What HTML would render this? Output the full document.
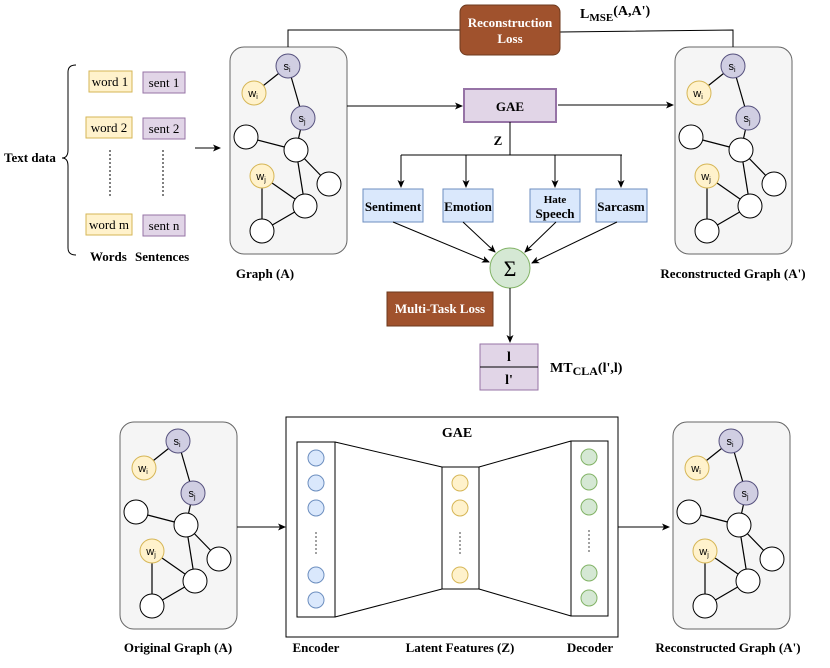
<!DOCTYPE html><html><head><meta charset="utf-8"><style>body{margin:0;background:#fff}svg{display:block;font-family:"Liberation Serif",serif}</style></head><body>
<svg width="830" height="668" viewBox="0 0 830 668" xmlns="http://www.w3.org/2000/svg" font-family="Liberation Serif, serif">
<defs>
<marker id="a" markerWidth="8" markerHeight="8" refX="7" refY="4" orient="auto" markerUnits="userSpaceOnUse"><path d="M0,0.5 L8,4 L0,7.5 L2,4z" fill="#000"/></marker>
<g id="g">
<rect x="0" y="0" width="117" height="207" rx="14" fill="#f5f5f5" stroke="#666"/>
<g stroke="#000" stroke-width="1.2">
<line x1="58" y1="19" x2="24" y2="46"/><line x1="58" y1="19" x2="73" y2="71"/><line x1="73" y1="71" x2="66" y2="103"/><line x1="16" y1="90" x2="66" y2="103"/><line x1="66" y1="103" x2="99" y2="137"/><line x1="66" y1="103" x2="75" y2="159"/><line x1="32" y1="129" x2="75" y2="159"/><line x1="32" y1="129" x2="32" y2="184"/><line x1="32" y1="184" x2="75" y2="159"/>
</g>
<circle cx="58" cy="19" r="12" fill="#d0cee2" stroke="#56517e"/>
<circle cx="24" cy="46" r="12" fill="#fff2cc" stroke="#d6b656"/>
<circle cx="73" cy="71" r="12" fill="#d0cee2" stroke="#56517e"/>
<circle cx="16" cy="90" r="12" fill="#fff" stroke="#000"/>
<circle cx="66" cy="103" r="12" fill="#fff" stroke="#000"/>
<circle cx="32" cy="129" r="12" fill="#fff2cc" stroke="#d6b656"/>
<circle cx="99" cy="137" r="12" fill="#fff" stroke="#000"/>
<circle cx="75" cy="159" r="12" fill="#fff" stroke="#000"/>
<circle cx="32" cy="184" r="12" fill="#fff" stroke="#000"/>
<g font-family="Liberation Sans,sans-serif" font-size="11" text-anchor="middle">
<text x="57" y="23">s<tspan font-size="7" dy="2">i</tspan></text>
<text x="23" y="50">w<tspan font-size="7" dy="2">i</tspan></text>
<text x="72" y="75">s<tspan font-size="7" dy="2">j</tspan></text>
<text x="31" y="133">w<tspan font-size="7" dy="2">j</tspan></text>
</g>
</g>
</defs>
<text x="4" y="162" font-size="13" font-weight="bold">Text data</text>
<path d="M76,65 Q68,65 68,72 L68,150 Q68,158 62,158 Q68,158 68,166 L68,248 Q68,255 76,255" fill="none" stroke="#000"/>
<g font-size="13" text-anchor="middle">
<rect x="89" y="71" width="43" height="21" fill="#fff2cc" stroke="#d6b656"/><text x="110" y="86">word 1</text>
<rect x="86" y="117" width="46" height="21" fill="#fff2cc" stroke="#d6b656"/><text x="109" y="132">word 2</text>
<rect x="86" y="214" width="46" height="21" fill="#fff2cc" stroke="#d6b656"/><text x="109" y="229">word m</text>
<rect x="143" y="72" width="42" height="21" fill="#e1d5e7" stroke="#9673a6"/><text x="164" y="87">sent 1</text>
<rect x="143" y="118" width="42" height="21" fill="#e1d5e7" stroke="#9673a6"/><text x="164" y="133">sent 2</text>
<rect x="143" y="215" width="42" height="21" fill="#e1d5e7" stroke="#9673a6"/><text x="164" y="230">sent n</text>
</g>
<line x1="110" y1="150" x2="110" y2="198" stroke="#000" stroke-dasharray="2,2"/>
<line x1="163" y1="150" x2="163" y2="198" stroke="#000" stroke-dasharray="2,2"/>
<text x="90" y="261" font-size="13" font-weight="bold">Words</text>
<text x="135" y="261" font-size="13" font-weight="bold">Sentences</text>
<line x1="195" y1="148" x2="220" y2="148" stroke="#000" marker-end="url(#a)"/>
<use href="#g" x="230" y="47"/>
<use href="#g" x="675" y="47"/>
<text x="265" y="278" font-size="13" font-weight="bold" text-anchor="middle">Graph (A)</text>
<text x="733" y="278" font-size="13" font-weight="bold" text-anchor="middle">Reconstructed Graph (A')</text>
<polyline points="288,47 288,30 460,30" fill="none" stroke="#000"/>
<polyline points="560,32 733,30 733,47" fill="none" stroke="#000"/>
<rect x="460" y="5" width="100" height="50" rx="7" fill="#a0522d" stroke="#6d3a1e"/>
<text x="510" y="27" font-size="13" font-weight="bold" fill="#fff" text-anchor="middle">Reconstruction</text>
<text x="510" y="43" font-size="13" font-weight="bold" fill="#fff" text-anchor="middle">Loss</text>
<text x="580" y="18" font-size="14" font-weight="bold">L<tspan font-size="11" dy="3">MSE</tspan><tspan dy="-6">(A,A')</tspan></text>
<line x1="347" y1="106" x2="462" y2="106" stroke="#000" marker-end="url(#a)"/>
<line x1="558" y1="105" x2="673" y2="105" stroke="#000" marker-end="url(#a)"/>
<rect x="464" y="89" width="92" height="33" fill="#e1d5e7" stroke="#9673a6" stroke-width="2"/>
<text x="510" y="111" font-size="13" font-weight="bold" text-anchor="middle">GAE</text>
<line x1="510" y1="122" x2="510" y2="155" stroke="#000"/>
<text x="498" y="145" font-size="13" font-weight="bold" text-anchor="middle">Z</text>
<line x1="401" y1="155" x2="622" y2="155" stroke="#000"/>
<g stroke="#000" marker-end="url(#a)"><line x1="401" y1="155" x2="401" y2="187"/><line x1="466" y1="155" x2="466" y2="187"/><line x1="555" y1="155" x2="555" y2="187"/><line x1="621" y1="155" x2="621" y2="187"/></g>
<g fill="#dae8fc" stroke="#6c8ebf"><rect x="363" y="189" width="60" height="33"/><rect x="443" y="189" width="50" height="33"/><rect x="530" y="189" width="50" height="33"/><rect x="596" y="189" width="51" height="33"/></g>
<g font-size="13" font-weight="bold" text-anchor="middle"><text x="393" y="211">Sentiment</text><text x="468" y="211">Emotion</text><text x="555" y="203" font-size="11">Hate</text><text x="555" y="218">Speech</text><text x="621" y="211">Sarcasm</text></g>
<g stroke="#000" marker-end="url(#a)"><line x1="393" y1="222" x2="489" y2="262"/><line x1="463" y1="222" x2="495" y2="252"/><line x1="556" y1="222" x2="525" y2="252"/><line x1="617" y1="222" x2="532" y2="263"/></g>
<circle cx="510" cy="268" r="20" fill="#d5e8d4" stroke="#82b366"/>
<text x="510" y="276" font-size="22" text-anchor="middle">Σ</text>
<rect x="387" y="292" width="106" height="34" fill="#a0522d" stroke="#6d3a1e"/>
<text x="440" y="313" font-size="13" font-weight="bold" fill="#fff" text-anchor="middle">Multi-Task Loss</text>
<line x1="510" y1="288" x2="510" y2="342" stroke="#000" marker-end="url(#a)"/>
<rect x="480" y="344" width="58" height="46" fill="#e1d5e7" stroke="#9673a6"/>
<line x1="480" y1="367" x2="538" y2="367" stroke="#000"/>
<text x="509" y="361" font-size="14" font-weight="bold" text-anchor="middle">l</text>
<text x="509" y="384" font-size="14" font-weight="bold" text-anchor="middle">l'</text>
<text x="550" y="372" font-size="14" font-weight="bold">MT<tspan font-size="12" dy="3">CLA</tspan><tspan dy="-3">(l',l)</tspan></text>
<use href="#g" x="120" y="422"/>
<use href="#g" x="673" y="422"/>
<line x1="237" y1="527" x2="285" y2="527" stroke="#000" marker-end="url(#a)"/>
<line x1="618" y1="527" x2="669" y2="527" stroke="#000" marker-end="url(#a)"/>
<rect x="286" y="417" width="332" height="220" fill="#fff" stroke="#000"/>
<text x="457" y="437" font-size="14" font-weight="bold" text-anchor="middle">GAE</text>
<g fill="none" stroke="#000"><rect x="297" y="442" width="38" height="175"/><rect x="442" y="467" width="37" height="122"/><rect x="571" y="441" width="37" height="175"/>
<line x1="335" y1="442" x2="442" y2="467"/><line x1="335" y1="617" x2="442" y2="589"/><line x1="479" y1="467" x2="571" y2="441"/><line x1="479" y1="589" x2="571" y2="616"/></g>
<g fill="#dae8fc" stroke="#6c8ebf"><circle cx="316" cy="458" r="8"/><circle cx="316" cy="483" r="8"/><circle cx="316" cy="508" r="8"/><circle cx="316" cy="575" r="8"/><circle cx="316" cy="600" r="8"/></g>
<g fill="#fff2cc" stroke="#d6b656"><circle cx="460" cy="483" r="8"/><circle cx="460" cy="508" r="8"/><circle cx="460" cy="575" r="8"/></g>
<g fill="#d5e8d4" stroke="#82b366"><circle cx="589" cy="457" r="8"/><circle cx="589" cy="482" r="8"/><circle cx="589" cy="507" r="8"/><circle cx="589" cy="573" r="8"/><circle cx="589" cy="598" r="8"/></g>
<g stroke="#444" stroke-dasharray="2,2"><line x1="316" y1="532" x2="316" y2="555"/><line x1="460" y1="532" x2="460" y2="555"/><line x1="589" y1="530" x2="589" y2="553"/></g>
<g font-size="13" font-weight="bold" text-anchor="middle"><text x="178" y="652">Original Graph (A)</text><text x="316" y="652">Encoder</text><text x="460" y="652">Latent Features (Z)</text><text x="590" y="652">Decoder</text><text x="728" y="652">Reconstructed Graph (A')</text></g>
</svg></body></html>
